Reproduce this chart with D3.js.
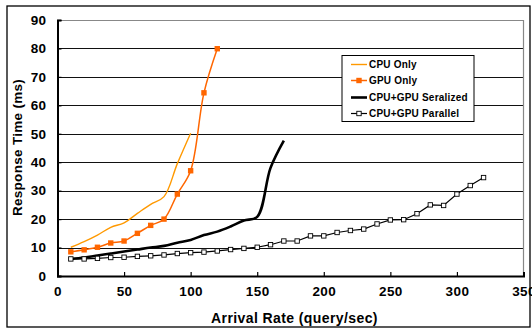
<!DOCTYPE html>
<html><head><meta charset="utf-8">
<script src="https://cdn.jsdelivr.net/npm/d3@7"></script>
<style>body{margin:0;background:#fff}svg{display:block;font-family:"Liberation Sans",Arial,sans-serif;font-weight:bold}</style>
</head><body><svg id="c" width="532" height="329"></svg>
<script>
const cpuX = [10,20,30,40,50,60,70,80,90,100];
const cpuY = [10.1,12.1,14.4,17.1,18.7,22,25.2,27.9,39.5,50.2];
const gpuX = [10,20,30,40,50,60,70,80,90,100,110,120];
const gpuY = [8.5,9.2,10.1,11.6,12.3,15,17.8,20,28.8,37,64.4,79.9];
const serX = [10,20,30,40,50,60,70,80,90,100,110,120,130,140,150,160,170];
const serY = [6,6.5,7.2,7.9,8.6,9.3,10,10.6,11.7,12.7,14.4,15.6,17.4,19.5,20.8,38,47.6];
const parX = [10,20,30,40,50,60,70,80,90,100,110,120,130,140,150,160,170,180,190,200,210,220,230,240,250,260,270,280,290,300,310,320];
const parY = [6,6,6.2,6.5,6.6,6.9,7.1,7.4,7.9,8.2,8.4,8.8,9.3,9.7,10.1,11,12.3,12.3,14.1,14.1,15.3,16,16.5,18.3,19.7,19.8,21.9,25,24.8,28.8,31.8,34.6];
const xTicks = [0,50,100,150,200,250,300,350];
const yTicks = [0,10,20,30,40,50,60,70,80,90];
const seriesNames = ["CPU Only","GPU Only","CPU+GPU Seralized","CPU+GPU Parallel"];

const svg = d3.select("#c");
const L=57.5,R=523.5,T=20,B=276;
const x = d3.scaleLinear().domain([0,350]).range([L,R]);
const y = d3.scaleLinear().domain([0,90]).range([B,T]);

svg.append("rect").attr("x",7).attr("y",6).attr("width",523).attr("height",321).attr("fill","none").attr("stroke","#000").attr("stroke-width",1.3);

// grid
svg.append("g").selectAll("line").data(yTicks.filter(d=>d>0)).join("line")
  .attr("x1",L).attr("x2",R).attr("y1",d=>Math.round(y(d))+0.5).attr("y2",d=>Math.round(y(d))+0.5)
  .attr("stroke",d=>d===90?"#888":"#111").attr("stroke-width",1);
svg.append("line").attr("x1",R).attr("x2",R).attr("y1",T).attr("y2",B).attr("stroke","#888").attr("stroke-width",1.2);

// axes
const ya = svg.append("g").attr("transform",`translate(${L},0)`)
  .call(d3.axisLeft(y).tickValues(yTicks).tickSize(-4).tickPadding(11).tickFormat(d3.format("d")));
const xa = svg.append("g").attr("transform",`translate(0,${B})`)
  .call(d3.axisBottom(x).tickValues(xTicks).tickSize(-4).tickPadding(10).tickFormat(d3.format("d")));
[ya,xa].forEach(a=>{a.select(".domain").attr("stroke","#000").attr("stroke-width",2);
  a.selectAll(".tick line").attr("stroke","#000").attr("stroke-width",1.2);
  a.selectAll("text").attr("font-size",13.5).attr("letter-spacing",0.4).attr("font-weight","bold").attr("fill","#000").attr("font-family","Liberation Sans, Arial, sans-serif");});

svg.append("text").attr("transform","translate(22,147.5) rotate(-90)").attr("text-anchor","middle").attr("font-size",13.5).attr("letter-spacing",0.3).text("Response Time (ms)");
svg.append("text").attr("x",294.5).attr("y",322.5).attr("text-anchor","middle").attr("font-size",14).attr("letter-spacing",0.4).text("Arrival Rate (query/sec)");

const smooth = d3.line().x(d=>x(d[0])).y(d=>y(d[1])).curve(d3.curveCatmullRom.alpha(0.5));
const zip=(a,b)=>a.map((v,i)=>[v,b[i]]);
const cpu=zip(cpuX,cpuY), gpu=zip(gpuX,gpuY), ser=zip(serX,serY), par=zip(parX,parY);

svg.append("path").datum(cpu).attr("d",smooth).attr("fill","none").attr("stroke","#FF9900").attr("stroke-width",1.4);
svg.append("path").datum(gpu).attr("d",smooth).attr("fill","none").attr("stroke","#FF6600").attr("stroke-width",1.5);
svg.append("g").selectAll("rect").data(gpu).join("rect")
  .attr("x",d=>x(d[0])-2.7).attr("y",d=>y(d[1])-2.7).attr("width",5.4).attr("height",5.4).attr("fill","#FF6600");
svg.append("path").datum(ser).attr("d",smooth).attr("fill","none").attr("stroke","#000").attr("stroke-width",2.6);
svg.append("path").datum(par).attr("d",d3.line().x(d=>x(d[0])).y(d=>y(d[1]))).attr("fill","none").attr("stroke","#000").attr("stroke-width",1.2);
svg.append("g").selectAll("rect").data(par).join("rect")
  .attr("x",d=>x(d[0])-2.2).attr("y",d=>y(d[1])-2.2).attr("width",4.4).attr("height",4.4).attr("fill","#fff").attr("stroke","#000").attr("stroke-width",0.9);

// legend
const lg = svg.append("g");
lg.append("rect").attr("x",342).attr("y",55.5).attr("width",132).attr("height",66).attr("fill","#fff").attr("stroke","#000").attr("stroke-width",1);
const rows=[64.5,80.5,97.5,113.5];
const styles=[{c:"#FF9900",w:1.4,m:null},{c:"#FF6600",w:1.5,m:"fill"},{c:"#000",w:2.6,m:null},{c:"#000",w:1.2,m:"open"}];
seriesNames.forEach((n,i)=>{
  const s=styles[i], yy=rows[i];
  lg.append("line").attr("x1",351).attr("x2",367).attr("y1",yy).attr("y2",yy).attr("stroke",s.c).attr("stroke-width",s.w);
  if(s.m==="fill") lg.append("rect").attr("x",356.3).attr("y",yy-2.7).attr("width",5.4).attr("height",5.4).attr("fill",s.c);
  if(s.m==="open") lg.append("rect").attr("x",356.8).attr("y",yy-2.2).attr("width",4.4).attr("height",4.4).attr("fill","#fff").attr("stroke","#000").attr("stroke-width",0.9);
  lg.append("text").attr("x",369).attr("y",yy+3.7).attr("font-size",10).attr("letter-spacing",0.2).text(n);
});
</script></body></html>
